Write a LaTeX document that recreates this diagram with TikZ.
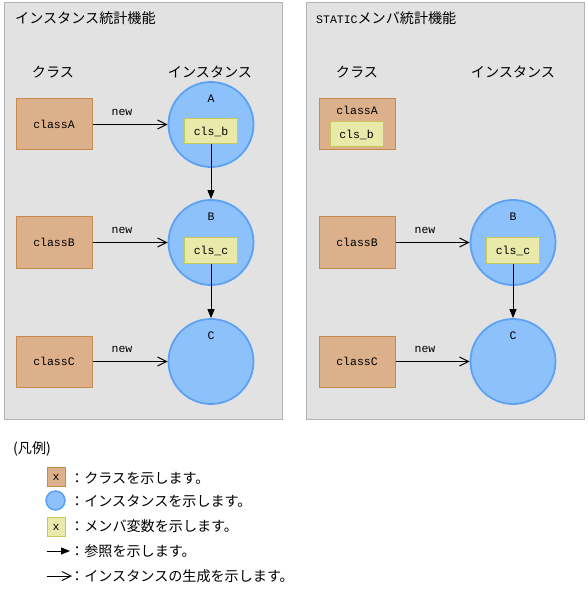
\documentclass[tikz,border=0pt]{standalone}
\usepackage{fontspec}
\setmainfont{Noto Sans CJK JP}
\setmonofont{Liberation Mono}
\usepackage{tikz}
\usetikzlibrary{arrows.meta, positioning}
\tikzset{  
    auto,node distance =1.1 cm and 1.1 cm,% distance between nodes
}
\definecolor{panelgray}{HTML}{E2E2E2}
\definecolor{panelline}{HTML}{B4B4B4}
\definecolor{classfill}{HTML}{DCB08A}
\definecolor{classline}{HTML}{C48A4E}
\definecolor{instfill}{HTML}{8CC1FB}
\definecolor{instline}{HTML}{5DA2F2}
\definecolor{varfill}{HTML}{E9E9A9}
\definecolor{varline}{HTML}{C8C85A}
\newcommand{\jp}{\fontsize{14.1pt}{17pt}\selectfont}
\newcommand{\lat}{\ttfamily\fontsize{11.5pt}{13pt}\selectfont}

\begin{document}
\begin{tikzpicture}[x=1pt, y=-1pt,
    panel/.style={draw=panelline, fill=panelgray, line width=1pt},
    classbox/.style={draw=classline, fill=classfill, line width=1pt, minimum width=76pt, minimum height=51pt, inner sep=0pt, font=\lat},
    inst/.style={circle, draw=instline, fill=instfill, line width=1.8pt, minimum size=85pt, inner sep=0pt},
    varbox/.style={draw=varline, fill=varfill, line width=1pt, minimum width=53pt, minimum height=25pt, inner sep=0pt, font=\lat},
    newarrow/.style={-{Straight Barb[length=9pt, width=9pt]}, line width=1pt},
    refarrow/.style={-{Triangle[length=9pt, width=7pt]}, line width=1pt},
    lbl/.style={inner sep=0pt, font=\lat},
    jtext/.style={inner sep=0pt, font=\jp}]
            \useasboundingbox (0,0) rectangle (587,593);
            % Draw panels
            \draw[panel] (4,3) rectangle (282,419);
            \draw[panel] (306,3) rectangle (584,419);
            \node[jtext, anchor=west] (titleL) at (15,18) {インスタンス統計機能};
            \node[jtext, anchor=west] (titleR) at (316,18) {{\lat STATIC}メンバ統計機能};
            \node[jtext] (hdrClassL) at (53,72) {クラス};
            \node[jtext] (hdrInstL) at (210,72) {インスタンス};
            \node[jtext] (hdrClassR) at (357,72) {クラス};
            \node[jtext] (hdrInstR) at (513,72) {インスタンス};
            % Left panel: classes and instances
            \foreach \n/\y in {A/124.5, B/242.5, C/361.5} {
                \node[classbox] (classL\n) at (54,\y) {class\n};
                \node[inst] (instL\n) at (211,\y) {};
                \node[lbl] (nameL\n) at (211,\y-26) {\n};
                \node[lbl] (newL\n) at (122,\y-12) {new};
                \draw[newarrow] (classL\n) -- (instL\n);
            }
            \node[varbox] (varLb) at (211,131.5) {cls\_b};
            \node[varbox] (varLc) at (211,250.5) {cls\_c};
            \draw[refarrow] (varLb) -- (instLB);
            \draw[refarrow] (varLc) -- (instLC);
            % Right panel: static members
            \node[classbox] (classRA) at (357,124.5) {};
            \node[lbl] (nameRA) at (357,110) {classA};
            \node[varbox] (varRb) at (356.5,134.5) {cls\_b};
            \foreach \n/\y in {B/242.5, C/361.5} {
                \node[classbox] (classR\n) at (357,\y) {class\n};
                \node[inst] (instR\n) at (513,\y) {};
                \node[lbl] (nameR\n) at (513,\y-26) {\n};
                \node[lbl] (newR\n) at (425,\y-12) {new};
                \draw[newarrow] (classR\n) -- (instR\n);
            }
            \node[varbox] (varRc) at (513,250.5) {cls\_c};
            \draw[refarrow] (varRc) -- (instRC);
            % Draw legend
            \node[jtext, anchor=west] (legendTitle) at (13,449) {(凡例)};
            \node[classbox, minimum width=18pt, minimum height=19pt] (lgClass) at (56,477) {x};
            \node[inst, minimum size=19pt, line width=1.5pt] (lgInst) at (55.5,500.5) {};
            \node[varbox, minimum width=18pt, minimum height=19pt] (lgVar) at (56,527) {x};
            \coordinate (lgRefA) at (47,551);
            \coordinate (lgRefB) at (70,551);
            \draw[refarrow] (lgRefA) -- (lgRefB);
            \coordinate (lgNewA) at (47,576);
            \coordinate (lgNewB) at (72,576);
            \draw[newarrow] (lgNewA) -- (lgNewB);
            \node[jtext, anchor=west] (lgClassTxt) at (70,478) {：クラスを示します。};
            \node[jtext, anchor=west] (lgInstTxt) at (70,501.5) {：インスタンスを示します。};
            \node[jtext, anchor=west] (lgVarTxt) at (70,526.5) {：メンバ変数を示します。};
            \node[jtext, anchor=west] (lgRefTxt) at (70,551.5) {：参照を示します。};
            \node[jtext, anchor=west] (lgNewTxt) at (70,576.5) {：インスタンスの生成を示します。};
        \end{tikzpicture}
\end{document}
